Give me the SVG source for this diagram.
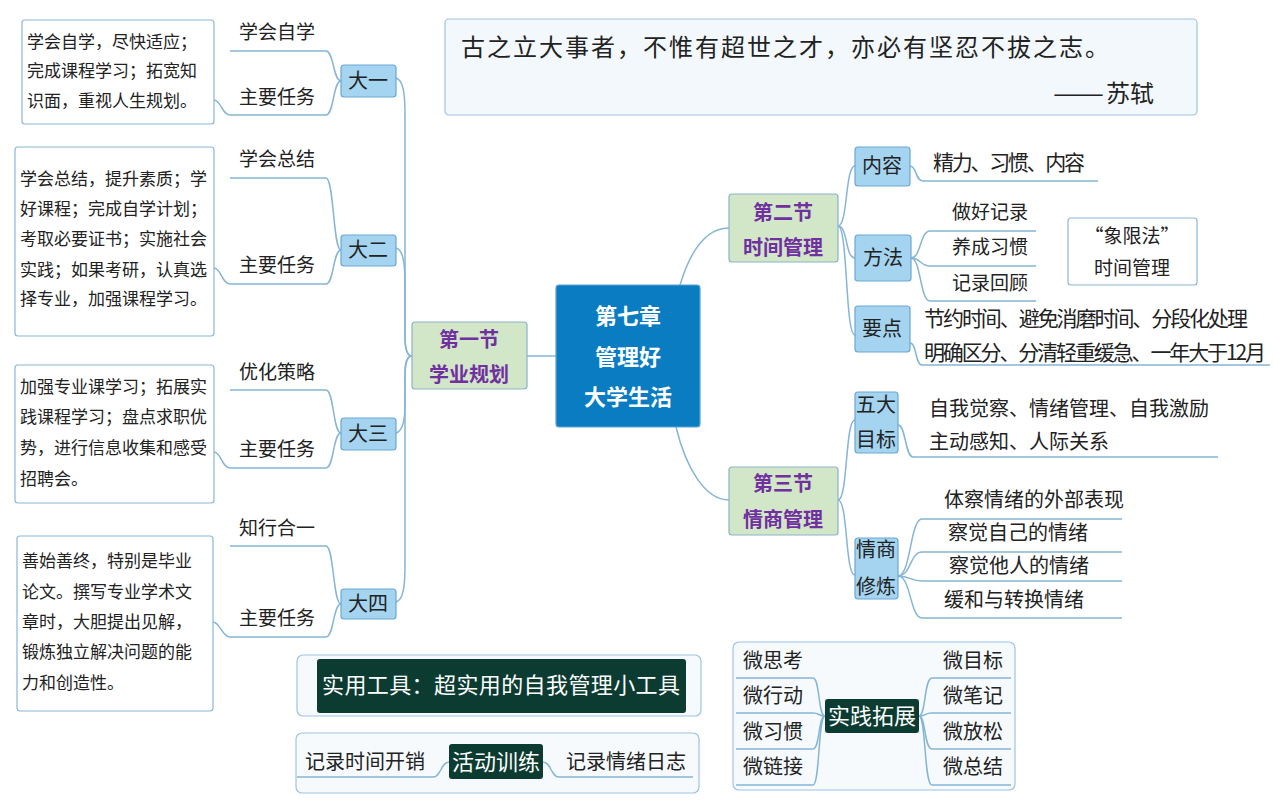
<svg xmlns="http://www.w3.org/2000/svg" width="1278" height="811" viewBox="0 0 1278 811">
<style>
text{font-family:"Noto Sans CJK SC","Microsoft YaHei",sans-serif;fill:#222;}
.c{fill:none;stroke:#86b5d6;stroke-width:1.5;}
.note{fill:#fff;stroke:#8ab8dc;stroke-width:1.2;}
.outer{fill:#f7fafd;stroke:#9cc3e2;stroke-width:1.2;}
.yr{fill:#a4d4f0;stroke:#6ba8d2;stroke-width:1.2;}
.sec{fill:#d2e6c8;stroke:#8bb3ca;stroke-width:1.2;}
.dark{fill:#0c3c31;}
.t17{font-size:17px;}
.t19{font-size:19px;}
.t20{font-size:20px;}
.t21{font-size:21px;}
.st{font-size:20px;font-weight:bold;fill:#7030a0;text-anchor:middle;}
.wt{font-size:22px;fill:#fff;text-anchor:middle;}
.m{text-anchor:middle;}
</style>

<g id="frames">
  <rect class="outer" x="297" y="655" width="404" height="61" rx="6"/>
  <rect class="outer" x="296" y="733" width="403" height="60" rx="6"/>
  <rect class="outer" x="733" y="642" width="282" height="148" rx="6"/>
</g>

<g id="connectors">
  <path class="c" d="M230,51 L326,51 C334,51 333,81 341,81"/>
  <path class="c" d="M214,100 C221,100 222,115 230,115 L326,115 C334,115 333,81 341,81"/>
  <path class="c" d="M230,178 L326,178 C334,178 333,250 341,250"/>
  <path class="c" d="M214,268 C221,268 222,284 230,284 L326,284 C334,284 333,250 341,250"/>
  <path class="c" d="M230,390 L326,390 C334,390 333,433 341,433"/>
  <path class="c" d="M214,452 C221,452 222,468 230,468 L326,468 C334,468 333,433 341,433"/>
  <path class="c" d="M230,546 L326,546 C334,546 333,604 341,604"/>
  <path class="c" d="M213,622 C220,622 222,637 230,637 L326,637 C334,637 333,604 341,604"/>
  <path class="c" d="M396,78 C403,80 405,92 405,115 L405,335 C405,349 407,356 412,356"/>
  <path class="c" d="M396,248 C403,250 405,262 405,285 L405,338 C405,350 407,356 412,356"/>
  <path class="c" d="M396,433 C403,431 405,420 405,405 L405,372 C405,362 407,356 412,356"/>
  <path class="c" d="M396,602 C403,600 405,588 405,565 L405,378 C405,364 407,356 412,356"/>
  <path class="c" d="M527,356 L556,356"/>
  <path class="c" d="M680,285 C690,252 705,228 729,228"/>
  <path class="c" d="M676,427 C686,468 705,500 729,500"/>
  <path class="c" d="M838,226 C848,226 845,166 855,166"/>
  <path class="c" d="M838,226 C848,226 845,258 855,258"/>
  <path class="c" d="M838,226 C848,226 845,335 855,335"/>
  <path class="c" d="M910,166 C917,166 915,181 923,181 L1098,181"/>
  <path class="c" d="M911,258 C921,258 920,231 930,231 L1036,231"/>
  <path class="c" d="M911,258 C921,258 920,266 930,266 L1036,266"/>
  <path class="c" d="M911,258 C921,258 920,301 930,301 L1036,301"/>
  <path class="c" d="M910,343 C917,343 915,365 922,365 L1270,365"/>
  <path class="c" d="M838,500 C848,500 845,420 855,420"/>
  <path class="c" d="M838,500 C848,500 845,575 855,575"/>
  <path class="c" d="M898,425 C906,425 905,457 913,457 L1218,457"/>
  <path class="c" d="M898,576 C911,576 910,519 922,519 L1122,519"/>
  <path class="c" d="M898,576 C911,576 910,552 922,552 L1122,552"/>
  <path class="c" d="M898,576 C911,576 910,581 922,581 L1122,581"/>
  <path class="c" d="M898,576 C911,576 910,618 922,618 L1122,618"/>
  <path class="c" d="M297,777 L433,777 C441,777 441,762 449,762"/>
  <path class="c" d="M543,762 C551,762 551,777 559,777 L693,777"/>
  <path class="c" d="M736,678 L813,678 C820,678 818,716 825,716"/>
  <path class="c" d="M736,713 L813,713 C820,713 818,716 825,716"/>
  <path class="c" d="M736,749 L813,749 C820,749 818,716 825,716"/>
  <path class="c" d="M736,785 L813,785 C820,785 818,716 825,716"/>
  <path class="c" d="M919,716 C926,716 924,678 932,678 L1011,678"/>
  <path class="c" d="M919,716 C926,716 924,713 932,713 L1011,713"/>
  <path class="c" d="M919,716 C926,716 924,749 932,749 L1011,749"/>
  <path class="c" d="M919,716 C926,716 924,785 932,785 L1011,785"/>
</g>

<g id="quote">
  <rect class="outer" x="445" y="19" width="752" height="96" rx="4" style="fill:#f3f8fc"/>
  <text x="461" y="56" style="font-size:24px" textLength="648" lengthAdjust="spacing">古之立大事者，不惟有超世之才，亦必有坚忍不拔之志。</text>
  <text x="1053" y="102" style="font-size:24px" textLength="51" lengthAdjust="spacingAndGlyphs">——</text>
  <text x="1106" y="102" style="font-size:24px">苏轼</text>
</g>

<g id="center">
  <rect x="556" y="285" width="144" height="142" rx="3" fill="#0a7cc2" stroke="#5da3d3" stroke-width="1.2"/>
  <text class="wt" x="628" y="324" style="font-weight:bold">第七章</text>
  <text class="wt" x="628" y="365" style="font-weight:bold">管理好</text>
  <text class="wt" x="628" y="405" style="font-weight:bold">大学生活</text>
</g>

<g id="sec1">
  <rect class="sec" x="412" y="322" width="115" height="67" rx="3"/>
  <text class="st" x="469" y="347">第一节</text>
  <text class="st" x="469" y="382">学业规划</text>
</g>
<g id="sec2">
  <rect class="sec" x="729" y="194" width="109" height="68" rx="3"/>
  <text class="st" x="783" y="220">第二节</text>
  <text class="st" x="783" y="255">时间管理</text>
</g>
<g id="sec3">
  <rect class="sec" x="729" y="467" width="109" height="68" rx="3"/>
  <text class="st" x="783" y="491">第三节</text>
  <text class="st" x="783" y="527">情商管理</text>
</g>

<g id="y1">
  <rect class="yr" x="341" y="65" width="55" height="32" rx="3"/>
  <text class="t20 m" x="368" y="88">大一</text>
  <text class="t19" x="239" y="39">学会自学</text>
  <text class="t19" x="239" y="104">主要任务</text>
  <rect class="note" x="22" y="20" width="192" height="104" rx="3"/>
  <text class="t17" x="27" y="48">学会自学，尽快适应；</text>
  <text class="t17" x="27" y="77">完成课程学习；拓宽知</text>
  <text class="t17" x="27" y="107">识面，重视人生规划。</text>
</g>
<g id="y2">
  <rect class="yr" x="341" y="235" width="55" height="31" rx="3"/>
  <text class="t20 m" x="368" y="257">大二</text>
  <text class="t19" x="239" y="166">学会总结</text>
  <text class="t19" x="239" y="272">主要任务</text>
  <rect class="note" x="15" y="147" width="199" height="189" rx="3"/>
  <text class="t17" x="20" y="185">学会总结，提升素质；学</text>
  <text class="t17" x="20" y="215">好课程；完成自学计划；</text>
  <text class="t17" x="20" y="245">考取必要证书；实施社会</text>
  <text class="t17" x="20" y="276">实践；如果考研，认真选</text>
  <text class="t17" x="20" y="305">择专业，加强课程学习。</text>
</g>
<g id="y3">
  <rect class="yr" x="341" y="418" width="55" height="32" rx="3"/>
  <text class="t20 m" x="368" y="441">大三</text>
  <text class="t19" x="239" y="379">优化策略</text>
  <text class="t19" x="239" y="456">主要任务</text>
  <rect class="note" x="15" y="365" width="199" height="138" rx="3"/>
  <text class="t17" x="20" y="393">加强专业课学习；拓展实</text>
  <text class="t17" x="20" y="423">践课程学习；盘点求职优</text>
  <text class="t17" x="20" y="454">势，进行信息收集和感受</text>
  <text class="t17" x="20" y="485">招聘会。</text>
</g>
<g id="y4">
  <rect class="yr" x="341" y="589" width="55" height="30" rx="3"/>
  <text class="t20 m" x="368" y="611">大四</text>
  <text class="t19" x="239" y="535">知行合一</text>
  <text class="t19" x="239" y="625">主要任务</text>
  <rect class="note" x="17" y="536" width="196" height="175" rx="3"/>
  <text class="t17" x="22" y="567">善始善终，特别是毕业</text>
  <text class="t17" x="22" y="598">论文。撰写专业学术文</text>
  <text class="t17" x="22" y="628">章时，大胆提出见解，</text>
  <text class="t17" x="22" y="658">锻炼独立解决问题的能</text>
  <text class="t17" x="22" y="689">力和创造性。</text>
</g>

<g id="neirong">
  <rect class="yr" x="855" y="147" width="55" height="39" rx="3"/>
  <text class="t20 m" x="882" y="173">内容</text>
  <text class="t21" x="933" y="170" textLength="152" lengthAdjust="spacing">精力、习惯、内容</text>
</g>
<g id="fangfa">
  <rect class="yr" x="855" y="235" width="56" height="46" rx="3"/>
  <text class="t20 m" x="883" y="265">方法</text>
  <text class="t19" x="952" y="219">做好记录</text>
  <text class="t19" x="952" y="254">养成习惯</text>
  <text class="t19" x="952" y="290">记录回顾</text>
</g>
<g id="xiangxian">
  <rect class="note" x="1068" y="218" width="129" height="67" rx="3"/>
  <text class="t19 m" x="1132" y="243">“象限法”</text>
  <text class="t19 m" x="1132" y="275">时间管理</text>
</g>
<g id="yaodian">
  <rect class="yr" x="855" y="306" width="55" height="46" rx="3"/>
  <text class="t20 m" x="882" y="336">要点</text>
  <text class="t21" x="924" y="326" textLength="324" lengthAdjust="spacing">节约时间、避免消磨时间、分段化处理</text>
  <text class="t21" x="924" y="360" textLength="342" lengthAdjust="spacing">明确区分、分清轻重缓急、一年大于12月</text>
</g>

<g id="wuda">
  <rect class="yr" x="855" y="392" width="43" height="61" rx="3"/>
  <text class="t20 m" x="876" y="412">五大</text>
  <text class="t20 m" x="876" y="447">目标</text>
  <text class="t20" x="929" y="416">自我觉察、情绪管理、自我激励</text>
  <text class="t20" x="929" y="449">主动感知、人际关系</text>
</g>
<g id="xiulian">
  <rect class="yr" x="855" y="538" width="43" height="61" rx="3"/>
  <text class="t20 m" x="876" y="557">情商</text>
  <text class="t20 m" x="876" y="594">修炼</text>
  <text class="t20" x="944" y="507">体察情绪的外部表现</text>
  <text class="t20" x="948" y="540">察觉自己的情绪</text>
  <text class="t20" x="949" y="573">察觉他人的情绪</text>
  <text class="t20" x="944" y="607">缓和与转换情绪</text>
</g>

<g id="tools">
  <rect class="dark" x="317" y="659" width="369" height="54" rx="3"/>
  <text class="wt" x="501" y="693" textLength="358" lengthAdjust="spacing">实用工具：超实用的自我管理小工具</text>
</g>

<g id="training">
  <rect class="dark" x="449" y="744" width="94" height="35" rx="3"/>
  <text class="wt" x="496" y="770">活动训练</text>
  <text class="t20" x="305" y="769">记录时间开销</text>
  <text class="t20" x="566" y="769">记录情绪日志</text>
</g>

<g id="practice">
  <rect class="dark" x="825" y="699" width="94" height="34" rx="3"/>
  <text class="wt" x="872" y="724">实践拓展</text>
  <text class="t20" x="743" y="668">微思考</text>
  <text class="t20" x="743" y="703">微行动</text>
  <text class="t20" x="743" y="739">微习惯</text>
  <text class="t20" x="743" y="774">微链接</text>
  <text class="t20" x="943" y="668">微目标</text>
  <text class="t20" x="943" y="703">微笔记</text>
  <text class="t20" x="943" y="739">微放松</text>
  <text class="t20" x="943" y="774">微总结</text>
</g>
</svg>
